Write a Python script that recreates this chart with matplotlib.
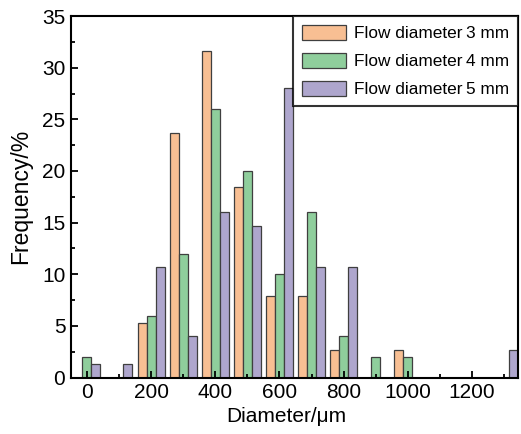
import matplotlib
matplotlib.use("Agg")
import matplotlib.pyplot as plt
import numpy as np
from matplotlib.ticker import MultipleLocator

plt.rcParams['font.family'] = ['Liberation Sans', 'DejaVu Sans']

diameters = [0, 100, 200, 300, 400, 500, 600, 700, 800, 900, 1000, 1100, 1200, 1300]
freq_3mm = [0, 0, 5.26, 23.68, 31.58, 18.42, 7.89, 7.89, 2.63, 0, 2.63, 0, 0, 0]
freq_4mm = [2, 0, 6, 12, 26, 20, 10, 16, 4, 2, 2, 0, 0, 0]
freq_5mm = [1.33, 1.33, 10.67, 4, 16, 14.67, 28, 10.67, 10.67, 0, 0, 0, 0, 2.67]
labels = ["Flow diameter\u20093 mm", "Flow diameter\u20094 mm", "Flow diameter\u20095 mm"]
colors = ["#F8BF93", "#8FCE9C", "#AEA6CD"]

fig = plt.figure(figsize=(5.21, 4.34), dpi=100)
ax = fig.add_axes([0.136, 0.130, 0.858, 0.833])

x = np.array(diameters, dtype=float)
w = 28
for off, vals, c, lab in zip([-w, 0, w], [freq_3mm, freq_4mm, freq_5mm], colors, labels):
    ax.bar(x + off, vals, width=w, color=c, edgecolor="#3f3f3f", linewidth=0.9, label=lab)

ax.set_xlim(-50, 1343)
ax.set_ylim(0, 35)
ax.xaxis.set_major_locator(MultipleLocator(200))
ax.xaxis.set_minor_locator(MultipleLocator(100))
ax.yaxis.set_major_locator(MultipleLocator(5))
ax.yaxis.set_minor_locator(MultipleLocator(2.5))
ax.set_xticks(range(0, 1201, 200))
ax.tick_params(which='both', direction='in', top=False, right=False, labelsize=15, width=1.3)
ax.tick_params(which='major', length=5, pad=4)
ax.tick_params(which='minor', length=3)
for s in ax.spines.values():
    s.set_linewidth(1.5)

ax.set_xlabel("Diameter/\u03bcm", fontsize=15)
ax.set_ylabel("Frequency/%", fontsize=16.5)
ax.xaxis.set_label_coords(0.481, -0.082)
ax.yaxis.set_label_coords(-0.087, 0.5)

leg = ax.legend(loc='upper left', bbox_to_anchor=(0.497, 0.0, 0.503, 1.0), mode='expand',
                fontsize=12.4, frameon=True, fancybox=False,
                edgecolor='black', handlelength=2.6, handleheight=1.0,
                borderaxespad=0.0, labelspacing=0.66, handletextpad=0.45,
                borderpad=0.5)
leg.get_frame().set_linewidth(1.5)

fig.savefig("out.png", dpi=100)
